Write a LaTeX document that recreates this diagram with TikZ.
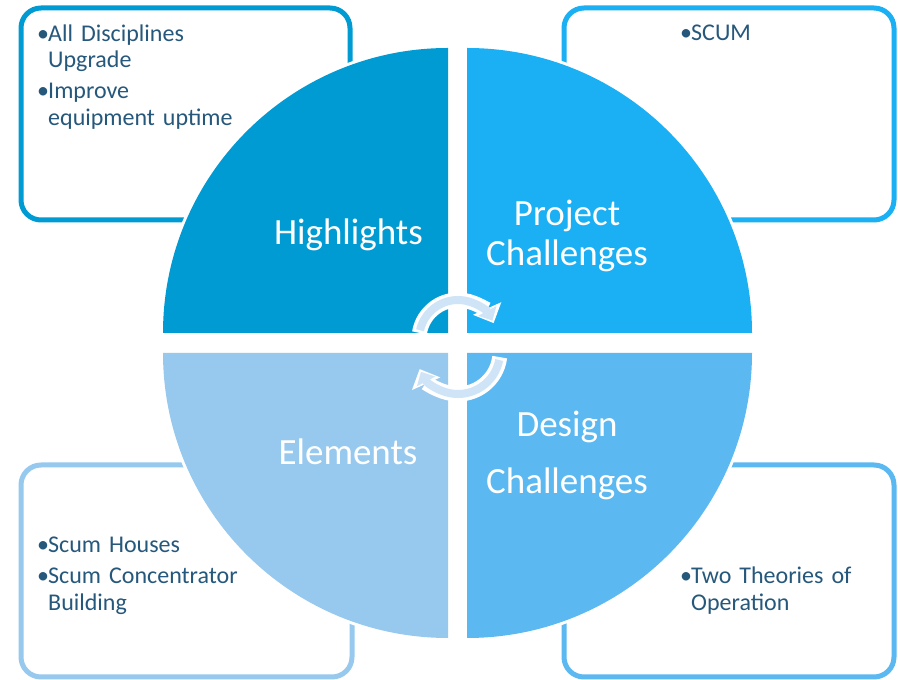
\documentclass[tikz,border=0pt]{standalone}
\usepackage{fontspec}
\setmainfont{Carlito}[WordSpace=0.65]
\usetikzlibrary{arrows.meta}
\definecolor{qone}{RGB}{0,155,211}
\definecolor{qtwo}{RGB}{27,175,243}
\definecolor{qthree}{RGB}{151,201,239}
\definecolor{qfour}{RGB}{92,184,240}
\definecolor{cyclefill}{RGB}{207,228,247}
\definecolor{itemtext}{RGB}{38,88,124}
\newcommand{\bul}[1]{\raggedright\hangindent=11pt\hangafter=1\noindent\makebox[11pt][l]{\textbullet}#1\par}
\newcommand{\bulsep}{\vspace{4.5pt}}

\begin{document}
\begin{tikzpicture}[x=1pt, y=1pt,
    quad/.style={fill=#1, preaction={draw=white, line width=6pt}},
    card/.style={draw=#1, line width=5pt, rounded corners=20pt, fill=white},
    title/.style={text=white, font=\fontsize{37}{40}\selectfont, text width=240pt,
      align=center, anchor=base, inner sep=0pt},
    items/.style={text=itemtext, font=\fontsize{24}{26.5}\selectfont,
      text width=300pt, anchor=base west, inner sep=0pt}]
    \useasboundingbox (0,0) rectangle (898,680);
    % cards behind the circle
    \draw[card=qone] (21,672) rectangle (350,460);
    \draw[card=qtwo] (564,672) rectangle (894,460);
    \draw[card=qthree] (21,215) rectangle (352,3);
    \draw[card=qfour] (564,215) rectangle (894,3);
    % quadrants
    \path[quad=qone] (448,347) -- (163,347) arc[start angle=180, end angle=90, radius=285] -- cycle;
    \path[quad=qtwo] (467,347) -- (467,632) arc[start angle=90, end angle=0, radius=285] -- cycle;
    \path[quad=qthree] (448,327) -- (448,42) arc[start angle=270, end angle=180, radius=285] -- cycle;
    \path[quad=qfour] (467,327) -- (752,327) arc[start angle=0, end angle=-90, radius=285] -- cycle;
    \node[title] (high) at (348.5,435) {Highlights};
    \node[title] (proj) at (567,454) {Project\\Challenges};
    \node[title] (elem) at (348,215) {Elements};
    \node[title] (desg) at (567,243) {Design\\[17pt]Challenges};
    % cycle arrows
    \draw[white, line width=15pt, -{Triangle[length=16pt, width=30pt]}]
      ([shift={(171:39)}]458,341) arc[start angle=171, end angle=24, radius=39];
    \draw[cyclefill, line width=8pt, -{Triangle[length=11pt, width=20pt]}]
      ([shift={(167:39)}]458,341) arc[start angle=167, end angle=28, radius=39];
    \draw[white, line width=15pt, -{Triangle[length=16pt, width=30pt]}]
      ([shift={(-7:42)}]458,328) arc[start angle=-7, end angle=-156, radius=42];
    \draw[cyclefill, line width=8pt, -{Triangle[length=11pt, width=20pt]}]
      ([shift={(-11:42)}]458,328) arc[start angle=-11, end angle=-152, radius=42];
    % bullet lists
    \node[items] (highlist) at (37,638.5) {\bul{All Disciplines\newline Upgrade}\bulsep\bul{Improve\newline equipment uptime}};
    \node[items] (projlist) at (680,639.3) {\bul{SCUM}};
    \node[items] (elemlist) at (37,127) {\bul{Scum Houses}\bulsep\bul{Scum Concentrator\newline Building}};
    \node[items] (desglist) at (680,96) {\bul{Two Theories of\newline Operation}};
  \end{tikzpicture}
\end{document}
